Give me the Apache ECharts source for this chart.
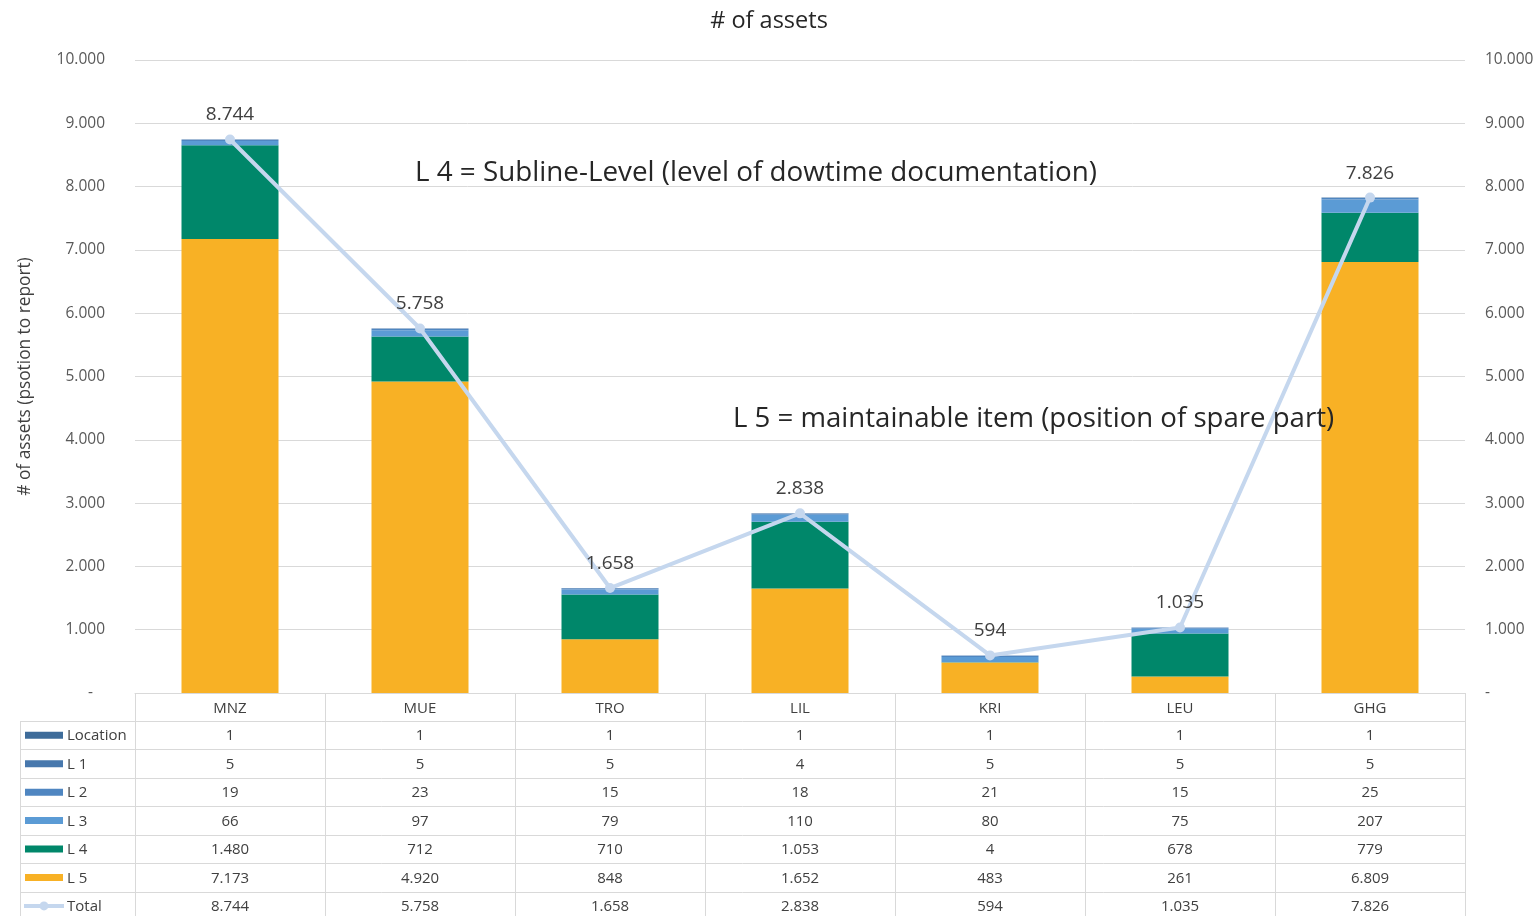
<!DOCTYPE html>
<html>
<head>
<meta charset="utf-8">
<script src="https://cdn.jsdelivr.net/npm/echarts@6/dist/echarts.min.js"></script>
<style>html,body{margin:0;padding:0;background:#fff;}#c{width:1538px;height:916px;}</style>
</head>
<body>
<div id="c"></div>
<script>
const categories = ['MNZ', 'MUE', 'TRO', 'LIL', 'KRI', 'LEU', 'GHG'];
const locationVals = [1, 1, 1, 1, 1, 1, 1];
const l1Vals = [5, 5, 5, 4, 5, 5, 5];
const l2Vals = [19, 23, 15, 18, 21, 15, 25];
const l3Vals = [66, 97, 79, 110, 80, 75, 207];
const l4Vals = [1480, 712, 710, 1053, 4, 678, 779];
const l5Vals = [7173, 4920, 848, 1652, 483, 261, 6809];
const totalVals = [8744, 5758, 1658, 2838, 594, 1035, 7826];
const yTicks = { min: 0, max: 10000, interval: 1000 };

const FONT = 'Open Sans';
const colors = {
  'Location': '#3e6c9a', 'L 1': '#4878ad', 'L 2': '#4f86c1', 'L 3': '#5b9bd5',
  'L 4': '#00876a', 'L 5': '#f8b125', 'Total': '#c5d7ee'
};
function fmt(n) { return n === 0 ? '-   ' : String(n).replace(/\B(?=(\d{3})+(?!\d))/g, '.'); }

const rows = [
  ['Location', locationVals], ['L 1', l1Vals], ['L 2', l2Vals], ['L 3', l3Vals],
  ['L 4', l4Vals], ['L 5', l5Vals], ['Total', totalVals]
];
const stackOrder = [['L 5', l5Vals], ['L 4', l4Vals], ['L 3', l3Vals], ['L 2', l2Vals], ['L 1', l1Vals], ['Location', locationVals]];

const grid = { left: 135, right: 73, top: 60, bottom: 223 };
const chart = echarts.init(document.getElementById('c'));

const series = stackOrder.map(([name, vals]) => ({
  name, type: 'bar', stack: 'a', data: vals, barWidth: 97,
  itemStyle: { color: colors[name] }, emphasis: { disabled: true }
}));
series.push({
  name: 'Total', type: 'line', data: totalVals, z: 5,
  lineStyle: { color: colors['Total'], width: 4 },
  itemStyle: { color: colors['Total'] },
  symbol: 'circle', symbolSize: 10,
  label: { show: true, position: 'top', distance: 10, fontFamily: FONT, fontSize: 19, color: '#404040', formatter: p => fmt(p.value) }
});

const axisLabelStyle = { fontFamily: FONT, fontSize: 15.5, color: '#595959', formatter: v => fmt(v), padding: [4, 0, 0, 0] };
chart.setOption({
  backgroundColor: '#fff',
  animation: false,
  title: { text: '# of assets', left: 'center', top: 4, textStyle: { fontFamily: FONT, fontSize: 23.5, fontWeight: 'normal', color: '#262626' } },
  grid,
  xAxis: {
    type: 'category', data: categories,
    axisLine: { show: true, lineStyle: { color: '#d9d9d9' } },
    axisTick: { show: false },
    axisLabel: { fontFamily: FONT, fontSize: 15, color: '#404040', margin: 8 }
  },
  yAxis: [
    { type: 'value', ...yTicks, position: 'left',
      name: '# of assets (psotion to report)', nameLocation: 'middle', nameRotate: 90, nameGap: 101,
      nameTextStyle: { fontFamily: FONT, fontSize: 17.3, color: '#404040' },
      axisLabel: { ...axisLabelStyle, margin: 30 },
      splitLine: { lineStyle: { color: '#d9d9d9' } }, axisLine: { show: false }, axisTick: { show: false } },
    { type: 'value', ...yTicks, position: 'right',
      axisLabel: { ...axisLabelStyle, margin: 20 },
      splitLine: { show: false }, axisLine: { show: false }, axisTick: { show: false } }
  ],
  series
});

// Build the data table below the chart
const W = 1538, H = 916;
const plotL = grid.left, plotR = W - grid.right, plotB = H - grid.bottom;
const colW = (plotR - plotL) / categories.length;
const rowH = 28.45;
const tableTop = plotB + 28;
const legendL = 20;
const g = [];
const lineStyle = { stroke: '#d9d9d9', lineWidth: 1 };
for (let k = 0; k <= categories.length; k++) {
  const x = Math.round(plotL + k * colW) + 0.5;
  g.push({ type: 'line', shape: { x1: x, y1: plotB, x2: x, y2: H + 5 }, style: lineStyle, silent: true });
}
g.push({ type: 'line', shape: { x1: legendL + 0.5, y1: tableTop, x2: legendL + 0.5, y2: H + 5 }, style: lineStyle, silent: true });
for (let i = 0; i <= rows.length; i++) {
  const y = Math.round(tableTop + i * rowH) + 0.5;
  g.push({ type: 'line', shape: { x1: legendL, y1: y, x2: plotR, y2: y }, style: lineStyle, silent: true });
}
rows.forEach(([name, vals], i) => {
  const cy = tableTop + i * rowH + rowH / 2;
  if (name === 'Total') {
    g.push({ type: 'line', shape: { x1: 24, y1: cy, x2: 64, y2: cy }, style: { stroke: colors[name], lineWidth: 4 }, silent: true });
    g.push({ type: 'circle', shape: { cx: 44, cy: cy, r: 4.5 }, style: { fill: colors[name] }, silent: true });
  } else {
    g.push({ type: 'rect', shape: { x: 25, y: cy - 3.5, width: 38, height: 7 }, style: { fill: colors[name] }, silent: true });
  }
  g.push({ type: 'text', x: 67, y: cy + 1, style: { text: name, fontFamily: FONT, fontSize: 15, fill: '#404040', textVerticalAlign: 'middle', verticalAlign: 'middle' }, silent: true });
  vals.forEach((v, k) => {
    g.push({ type: 'text', x: plotL + (k + 0.5) * colW, y: cy + 1, style: { text: fmt(v), fontFamily: FONT, fontSize: 15, fill: '#404040', align: 'center', textAlign: 'center', verticalAlign: 'middle', textVerticalAlign: 'middle' }, silent: true });
  });
});
// annotations
g.push({ type: 'text', x: 415, y: 173, style: { text: 'L 4 = Subline-Level (level of dowtime documentation)', fontFamily: FONT, fontSize: 27.8, fill: '#262626', verticalAlign: 'middle', textVerticalAlign: 'middle' }, silent: true, z: 10 });
g.push({ type: 'text', x: 733, y: 419, style: { text: 'L 5 = maintainable item (position of spare part)', fontFamily: FONT, fontSize: 27.6, fill: '#262626', verticalAlign: 'middle', textVerticalAlign: 'middle' }, silent: true, z: 10 });
chart.setOption({ graphic: g });
</script>
</body>
</html>
